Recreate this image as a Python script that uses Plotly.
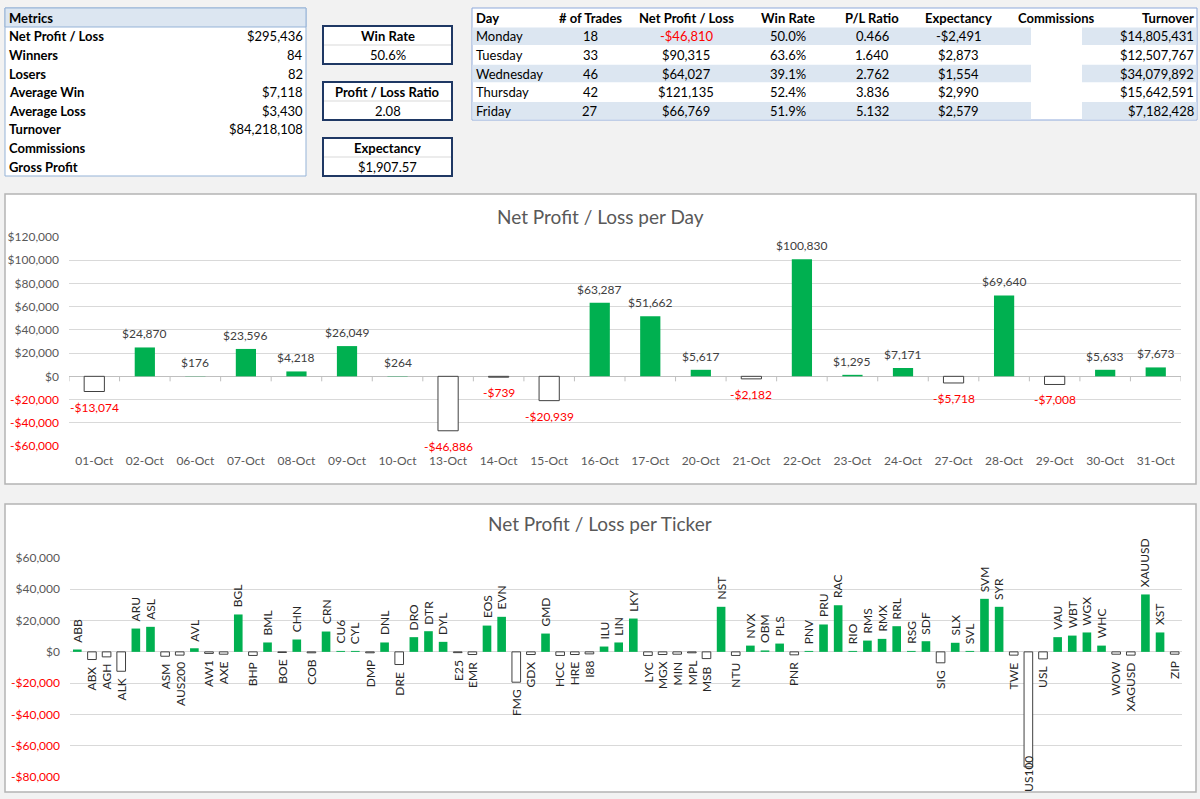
import plotly.graph_objects as go

W, H = 1200, 799
FONT = "Lato, 'Open Sans', sans-serif"
GREEN = "#00b050"
RED = "#ff0000"
BG = "#f2f2f2"

# ---------------- data ----------------
metric_labels = ["Net Profit / Loss", "Winners", "Losers", "Average Win", "Average Loss",
                 "Turnover", "Commissions", "Gross Profit"]
metric_values = ["$295,436", "84", "82", "$7,118", "$3,430", "$84,218,108", "", ""]

kpi_titles = ["Win Rate", "Profit / Loss Ratio", "Expectancy"]
kpi_values = ["50.6%", "2.08", "$1,907.57"]

week_headers = ["Day", "# of Trades", "Net Profit / Loss", "Win Rate", "P/L Ratio",
                "Expectancy", "Commissions", "Turnover"]
week_days = ["Monday", "Tuesday", "Wednesday", "Thursday", "Friday"]
week_trades = [18, 33, 46, 42, 27]
week_net = [-46810, 90315, 64027, 121135, 66769]
week_winrate = [50.0, 63.6, 39.1, 52.4, 51.9]
week_plratio = [0.466, 1.640, 2.762, 3.836, 5.132]
week_expect = [-2491, 2873, 1554, 2990, 2579]
week_turnover = [14805431, 12507767, 34079892, 15642591, 7182428]

day_dates = ["01-Oct", "02-Oct", "06-Oct", "07-Oct", "08-Oct", "09-Oct", "10-Oct", "13-Oct",
             "14-Oct", "15-Oct", "16-Oct", "17-Oct", "20-Oct", "21-Oct", "22-Oct", "23-Oct",
             "24-Oct", "27-Oct", "28-Oct", "29-Oct", "30-Oct", "31-Oct"]
day_pl = [-13074, 24870, 176, 23596, 4218, 26049, 264, -46886, -739, -20939, 63287, 51662,
          5617, -2182, 100830, 1295, 7171, -5718, 69640, -7008, 5633, 7673]

tickers = ["ABB", "ABX", "AGH", "ALK", "ARU", "ASL", "ASM", "AUS200", "AVL", "AW1", "AXE",
           "BGL", "BHP", "BML", "BOE", "CHN", "COB", "CRN", "CU6", "CYL", "DMP", "DNL",
           "DRE", "DRO", "DTR", "DYL", "E25", "EMR", "EOS", "EVN", "FMG", "GDX", "GMD",
           "HCC", "HRE", "I88", "ILU", "LIN", "LKY", "LYC", "MGX", "MIN", "MPL", "MSB",
           "NST", "NTU", "NVX", "OBM", "PLS", "PNR", "PNV", "PRU", "RAC", "RIO", "RMS",
           "RMX", "RRL", "RSG", "SDF", "SIG", "SLX", "SVL", "SVM", "SYR", "TWE", "US100",
           "USL", "VAU", "WBT", "WGX", "WHC", "WOW", "XAGUSD", "XAUUSD", "XST", "ZIP"]
ticker_pl = [1500, -4900, -3200, -12400, 14900, 16000, -2800, -2100, 2300, -1000, -1500,
             23900, -2300, 6000, -400, 7900, -600, 13000, 600, 600, -600, 6000,
             -8100, 9400, 13200, 6400, -500, -1700, 16800, 22400, -19400, -1700, 11700,
             -2300, -1700, -1300, 3400, 6000, 21300, -2300, -1700, -1500, -600, -4300,
             28800, -2300, 4000, 900, 5300, -1900, 600, 17500, 29800, 600, 7200,
             8300, 16400, 600, 6800, -7000, 5800, 600, 33900, 28800, -2100, -73500,
             -4500, 9400, 10400, 12400, 4000, -1500, -2100, 36700, 12400, -1500]

DAY_RANGE = [-60000, 120000]
TICK_RANGE = [-80000, 60000]
DAY_TICKS = list(range(-60000, 120001, 20000))
TICK_TICKS = list(range(-80000, 60001, 20000))


def money(v):
    s = "${:,.0f}".format(abs(v))
    return "-" + s if v < 0 else s


def tick_text(vals):
    out = []
    for v in vals:
        if v < 0:
            out.append("<span style='fill:%s'>%s</span>" % (RED, money(v)))
        else:
            out.append(money(v))
    return out


def px(x):
    return x / W


def py(y):
    return 1 - y / H


shapes = []
annotations = []


def rect(x0, y0, x1, y1, fill="rgba(0,0,0,0)", line="rgba(0,0,0,0)", lw=1, layer="below"):
    shapes.append(dict(type="rect", xref="paper", yref="paper", x0=px(x0), x1=px(x1),
                       y0=py(y1), y1=py(y0), fillcolor=fill,
                       line=dict(color=line, width=lw), layer=layer))


def hline(x0, x1, y, color, lw=1, layer="below"):
    shapes.append(dict(type="line", xref="paper", yref="paper", x0=px(x0), x1=px(x1),
                       y0=py(y), y1=py(y), line=dict(color=color, width=lw), layer=layer))


def text(x, y, s, anchor="left", bold=False, color="#000000", size=13):
    if bold:
        s = "<b>%s</b>" % s
    annotations.append(dict(x=px(x), y=py(y), xref="paper", yref="paper", text=s,
                            showarrow=False, xanchor=anchor, yanchor="middle",
                            font=dict(family=FONT, size=size, color=color)))


# ---------------- metrics table ----------------
rect(5, 8, 306, 176, fill="white", line="#95b3d7")
rect(5, 8, 306, 27, fill="#dce6f1", line="#95b3d7")
text(7, 17.5, "Metrics", bold=True)
row_h = (176 - 27) / len(metric_labels)
for i, (lab, val) in enumerate(zip(metric_labels, metric_values)):
    yc = 27 + row_h * (i + 0.5)
    text(7, yc, lab, bold=True)
    if val:
        text(305, yc, val, anchor="right")

# ---------------- KPI boxes ----------------
box_tops = [26, 82, 138]
for t, v, y0 in zip(kpi_titles, kpi_values, box_tops):
    rect(323, y0, 452, y0 + 38, fill="white", line="#1f3864", lw=2)
    hline(324, 451, y0 + 19, "#d9d9d9")
    text(387.5, y0 + 10, t, anchor="center", bold=True)
    text(387.5, y0 + 29, v, anchor="center")

# ---------------- weekday table ----------------
TX0, TX1, TY0, TY1 = 472, 1197, 8, 120
GAP0, GAP1 = 1031, 1082
rect(TX0, TY0, TX1, TY1, fill="white", line="#8ea9db")
wrow_h = (TY1 - 27) / len(week_days)
for i in range(len(week_days)):
    y0 = 27 + wrow_h * i
    if i % 2 == 0:
        rect(TX0 + 0.5, y0 + 0.5, GAP0, y0 + wrow_h - 0.5, fill="#dce6f1")
        rect(GAP1, y0 + 0.5, TX1 - 0.5, y0 + wrow_h - 0.5, fill="#dce6f1")
col_x = [474, 590, 686, 788, 872, 958, 1056, 1196]
col_anchor = ["left", "center", "center", "center", "center", "center", "center", "right"]
for h, x, a in zip(week_headers, col_x, col_anchor):
    text(x, 17.5, h, anchor=a, bold=True)
for i in range(len(week_days)):
    yc = 27 + wrow_h * (i + 0.5)
    cells = [week_days[i], str(week_trades[i]), money(week_net[i]),
             "{:.1f}%".format(week_winrate[i]), "{:.3f}".format(week_plratio[i]),
             money(week_expect[i]), "", money(week_turnover[i])]
    for j, (c, x, a) in enumerate(zip(cells, col_x, col_anchor)):
        if not c:
            continue
        color = RED if (j == 2 and week_net[i] < 0) else "#000000"
        text(x, yc, c, anchor=a, color=color)

# ---------------- chart panels ----------------
rect(5, 194, 1196, 484, fill="white", line="#b4b4b4", lw=1.5)
rect(5, 504, 1196, 792, fill="white", line="#b4b4b4", lw=1.5)
text(600, 216, "Net Profit / Loss per Day", anchor="center", color="#595959", size=19)
text(600, 523, "Net Profit / Loss per Ticker", anchor="center", color="#595959", size=19)

fig = go.Figure()

fig.add_trace(go.Bar(
    x=day_dates, y=day_pl, width=0.4, xaxis="x", yaxis="y",
    marker=dict(color=[GREEN if v >= 0 else "white" for v in day_pl],
                line=dict(color=[GREEN if v >= 0 else "#404040" for v in day_pl],
                          width=[0 if v >= 0 else 1 for v in day_pl])),
    hoverinfo="skip", showlegend=False))

fig.add_trace(go.Bar(
    x=tickers, y=ticker_pl, width=0.59, xaxis="x2", yaxis="y2",
    marker=dict(color=[GREEN if v >= 0 else "white" for v in ticker_pl],
                line=dict(color=[GREEN if v >= 0 else "#404040" for v in ticker_pl],
                          width=[0 if v >= 0 else 1 for v in ticker_pl])),
    hoverinfo="skip", showlegend=False))

# day data labels
for d, v in zip(day_dates, day_pl):
    annotations.append(dict(
        x=d, y=v, xref="x", yref="y", text=money(v), showarrow=False,
        yanchor="bottom" if v >= 0 else "top", yshift=4 if v >= 0 else -6,
        font=dict(family=FONT, size=12, color="#404040" if v >= 0 else RED)))

# tick marks at category boundaries on the zero line
for i in range(len(day_dates) + 1):
    shapes.append(dict(type="line", xref="x", yref="y", x0=i - 0.5, x1=i - 0.5,
                       ysizemode="pixel", yanchor=0, y0=0, y1=-5,
                       line=dict(color="#bfbfbf", width=1), layer="above"))

# ticker labels (labels of very deep bars are kept near the bottom of the plot)
label_floor = TICK_RANGE[0] + 0.13 * (TICK_RANGE[1] - TICK_RANGE[0])
for t, v in zip(tickers, ticker_pl):
    if v >= 0:
        annotations.append(dict(x=t, y=v, xref="x2", yref="y2", text=t, showarrow=False,
                                textangle=-90, yanchor="bottom", yshift=5,
                                font=dict(family=FONT, size=12, color="#262626")))
    else:
        annotations.append(dict(x=t, y=max(v, label_floor), xref="x2", yref="y2", text=t,
                                showarrow=False, textangle=-90, yanchor="top", yshift=-5,
                                font=dict(family=FONT, size=12, color="#262626")))

axis_font = dict(family=FONT, size=12, color="#595959")
fig.update_layout(
    template="none",
    width=W, height=H, autosize=False, margin=dict(l=0, r=0, t=0, b=0, pad=0, autoexpand=False),
    paper_bgcolor=BG, plot_bgcolor="rgba(0,0,0,0)",
    bargap=0, showlegend=False, hovermode=False,
    font=dict(family=FONT),
    xaxis=dict(domain=[px(69), px(1181)], anchor="y", type="category", automargin=False,
               categoryorder="array", categoryarray=day_dates, range=[-0.5, len(day_dates) - 0.5],
               showgrid=False, showline=False, zeroline=False, ticks="",
               tickfont=axis_font, ticklabelstandoff=6, fixedrange=True),
    yaxis=dict(domain=[py(446), py(237)], anchor="x", range=DAY_RANGE, automargin=False,
               tickvals=DAY_TICKS, ticktext=tick_text(DAY_TICKS),
               showgrid=True, gridcolor="#d9d9d9", gridwidth=1,
               zeroline=True, zerolinecolor="#bfbfbf", zerolinewidth=1,
               showline=False, ticks="", tickfont=axis_font, ticklabelstandoff=9,
               fixedrange=True),
    xaxis2=dict(domain=[px(70), px(1182)], anchor="y2", type="category", automargin=False,
                categoryorder="array", categoryarray=tickers, range=[-0.5, len(tickers) - 0.5],
                showgrid=False, showline=False, zeroline=False, ticks="",
                showticklabels=False, fixedrange=True),
    yaxis2=dict(domain=[py(777), py(558)], anchor="x2", range=TICK_RANGE, automargin=False,
                tickvals=TICK_TICKS, ticktext=tick_text(TICK_TICKS),
                showgrid=True, gridcolor="#d9d9d9", gridwidth=1,
                zeroline=True, zerolinecolor="#d9d9d9", zerolinewidth=1,
                showline=False, ticks="", tickfont=axis_font, ticklabelstandoff=9,
                fixedrange=True),
    shapes=shapes, annotations=annotations,
)

fig.write_html("out.html", config={"displayModeBar": False, "staticPlot": True})
